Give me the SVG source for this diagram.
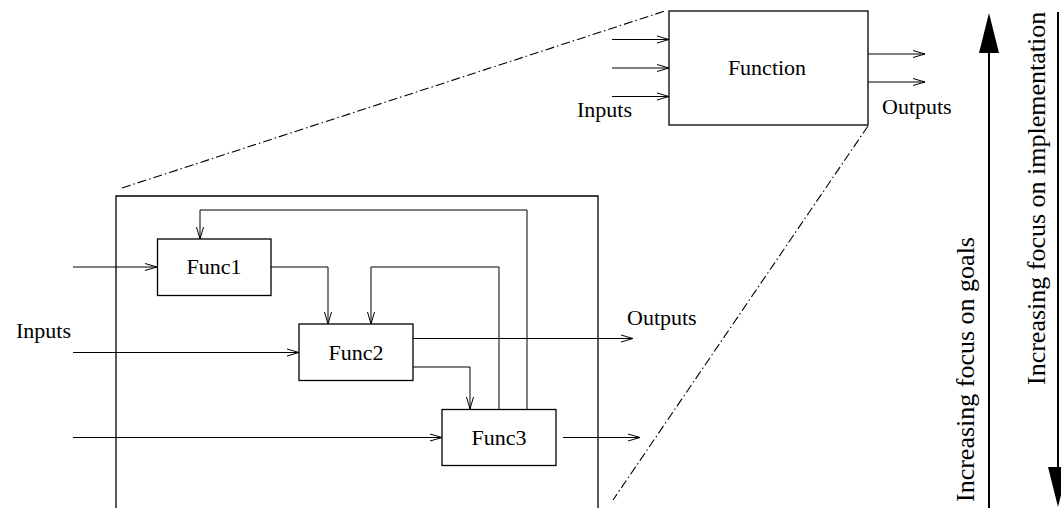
<svg xmlns="http://www.w3.org/2000/svg" width="1061" height="508" viewBox="0 0 1061 508">
<style>
.box{fill:#fff;stroke:#000;stroke-width:1.3}
.ln{fill:none;stroke:#000;stroke-width:1}
.dd{fill:none;stroke:#000;stroke-width:1.1;stroke-dasharray:9 3 1.5 3}
.t{font-family:"Liberation Serif","Times New Roman",serif;font-size:22px;fill:#000}
.tc{text-anchor:middle}
.big{font-family:"Liberation Serif","Times New Roman",serif;font-size:26px;fill:#000}
.thick{fill:none;stroke:#000;stroke-width:2}
</style>
<defs>
<marker id="ah" markerUnits="userSpaceOnUse" markerWidth="14" markerHeight="10" refX="12" refY="4" orient="auto" overflow="visible">
<path d="M0,0.5 L12,4 L0,7.5" fill="none" stroke="#000" stroke-width="1"/>
</marker>
</defs>
<g id="zoom-lines">
<path class="dd" d="M122,188 L665,11"/>
<path class="dd" d="M868,126 L613,500"/>
</g>
<g id="outer-box">
<path class="box" d="M116,509 L116,196 L598,196 L598,509" fill="none"/>
</g>
<g id="connectors">
<path class="ln" d="M612,39.5 L669,39.5" marker-end="url(#ah)"/>
<path class="ln" d="M612,68 L669,68" marker-end="url(#ah)"/>
<path class="ln" d="M612,96.5 L669,96.5" marker-end="url(#ah)"/>
<path class="ln" d="M868,54 L925,54" marker-end="url(#ah)"/>
<path class="ln" d="M868,82 L925,82" marker-end="url(#ah)"/>
<path class="ln" d="M73,267 L157,267" marker-end="url(#ah)"/>
<path class="ln" d="M73,352.5 L299,352.5" marker-end="url(#ah)"/>
<path class="ln" d="M73,437.5 L442,437.5" marker-end="url(#ah)"/>
<path class="ln" d="M271,267 L328,267 L328,324" marker-end="url(#ah)"/>
<path class="ln" d="M413,367 L470,367 L470,409" marker-end="url(#ah)"/>
<path class="ln" d="M527,409 L527,210 L200,210 L200,239" marker-end="url(#ah)"/>
<path class="ln" d="M499,409 L499,267 L371,267 L371,324" marker-end="url(#ah)"/>
<path class="ln" d="M413,338.5 L633,338.5" marker-end="url(#ah)"/>
<path class="ln" d="M563,437.5 L640,437.5" marker-end="url(#ah)"/>
</g>
<g id="function">
<rect class="box" x="669" y="11" width="199" height="114"/>
<text class="t tc" x="767" y="75">Function</text>
</g>
<g id="func1">
<rect class="box" x="157.5" y="239" width="113.5" height="56.5"/>
<text class="t tc" x="214" y="274">Func1</text>
</g>
<g id="func2">
<rect class="box" x="299" y="324" width="114" height="56.5"/>
<text class="t tc" x="356" y="360">Func2</text>
</g>
<g id="func3">
<rect class="box" x="442" y="409.5" width="114" height="56"/>
<text class="t tc" x="499" y="445">Func3</text>
</g>
<g id="labels">
<text class="t" x="577" y="117">Inputs</text>
<text class="t" x="882" y="114">Outputs</text>
<text class="t" x="16" y="338">Inputs</text>
<text class="t" x="627" y="325">Outputs</text>
</g>
<g id="goals-arrow">
<path class="thick" d="M989,508 L989,50"/>
<path d="M989,13 L999,53 L979,53 Z" fill="#000"/>
<text class="big" transform="translate(974,502) rotate(-90)">Increasing focus on goals</text>
</g>
<g id="impl-arrow">
<path class="thick" d="M1058,12 L1058,470"/>
<path d="M1058,507 L1068,467 L1048,467 Z" fill="#000"/>
<text class="big" transform="translate(1045,385) rotate(-90)">Increasing focus on implementation</text>
</g>
</svg>
